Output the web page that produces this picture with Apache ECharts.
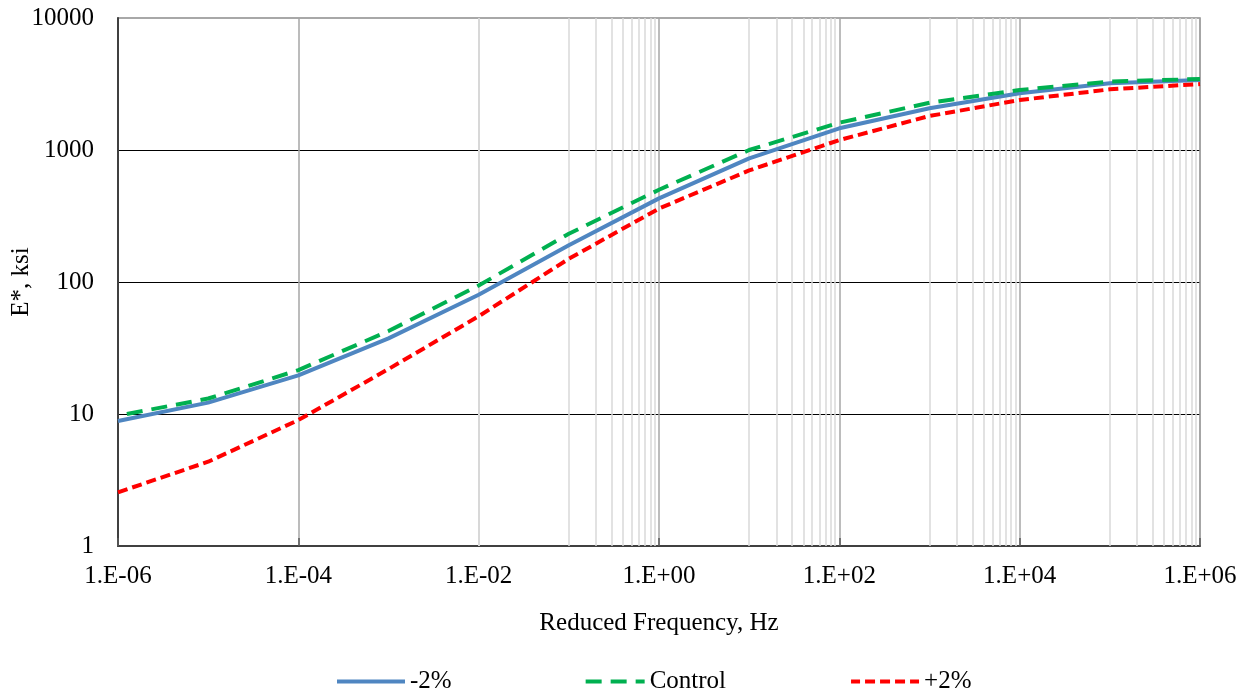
<!DOCTYPE html>
<html>
<head>
<meta charset="utf-8">
<script src="https://cdn.jsdelivr.net/npm/echarts@6/dist/echarts.min.js"></script>
<style>
html,body{margin:0;padding:0;background:#fff;}
#chart{width:1252px;height:696px;}
</style>
</head>
<body>
<div id="chart"></div>
<script>
// Reduced frequency (Hz)
var frequency = [1e-6, 1e-5, 1e-4, 1e-3, 1e-2, 1e-1, 1e0, 1e1, 1e2, 1e3, 1e4, 1e5, 1e6];
// E*, ksi
var minus2 = [8.85, 12.2, 19.6, 37.4, 80, 190, 430, 865, 1460, 2070, 2690, 3200, 3390];
var control = [9.7, 13.1, 21.5, 42.5, 94, 232, 500, 1000, 1610, 2280, 2850, 3300, 3450];
var plus2 = [2.55, 4.35, 9.0, 21.9, 55, 150, 360, 700, 1190, 1810, 2390, 2880, 3160];
var seriesNames = ['-2%', 'Control', '+2%'];

function pairs(xs, ys) { return xs.map(function (x, i) { return [x, ys[i]]; }); }

// minor vertical grid values (Excel style: 10..90 x 10^k within each 2-decade major unit)
var minorGrid = [];
for (var k = -6; k < 6; k += 2) {
  for (var m = 1; m <= 9; m++) minorGrid.push(m * Math.pow(10, k + 1));
}

var FONT = '"Liberation Serif", "Times New Roman", serif';

function fmtX(v) {
  var e = Math.round(Math.log10(v));
  var s = Math.abs(e) < 10 ? '0' + Math.abs(e) : '' + Math.abs(e);
  return '1.E' + (e < 0 ? '-' : '+') + s;
}
function fmtY(v) { return String(Math.round(v)); }

var chart = echarts.init(document.getElementById('chart'), null, {renderer: 'canvas'});
chart.setOption({
  animation: false,
  backgroundColor: '#ffffff',
  grid: {
    left: 118, right: 52, top: 18, bottom: 150,
    containLabel: false, outerBoundsMode: 'none',
    show: true, borderColor: '#8c8c8c', borderWidth: 1.5, backgroundColor: 'transparent'
  },
  legend: {
    data: seriesNames,
    left: 330, top: 664,
    itemWidth: 68, itemHeight: 14, itemGap: 123,
    itemStyle: {opacity: 0},
    lineStyle: {width: 4},
    textStyle: {fontFamily: FONT, fontSize: 25, color: '#000'}
  },
  xAxis: {
    type: 'log', logBase: 100, min: 1e-6, max: 1e6,
    name: 'Reduced Frequency, Hz', nameLocation: 'middle', nameGap: 65,
    nameTextStyle: {fontFamily: FONT, fontSize: 25, color: '#000'},
    axisLine: {show: true, lineStyle: {color: '#404040', width: 2}},
    axisTick: {show: true, inside: true, length: 8, lineStyle: {color: '#595959', width: 1.5}},
    axisLabel: {fontFamily: FONT, fontSize: 25, color: '#000', margin: 18, formatter: fmtX},
    splitLine: {show: true, lineStyle: {color: '#a6a6a6', width: 1.5}},
    minorTick: {show: false}
  },
  yAxis: {
    type: 'log', logBase: 10, min: 1, max: 10000,
    name: 'E*, ksi', nameLocation: 'middle', nameGap: 84, nameMoveOverlap: false,
    nameTextStyle: {fontFamily: FONT, fontSize: 25, color: '#000'},
    axisLine: {show: true, lineStyle: {color: '#404040', width: 2}},
    axisTick: {show: false},
    axisLabel: {fontFamily: FONT, fontSize: 25, color: '#000', margin: 24, formatter: fmtY},
    splitLine: {show: true, showMinLine: false, showMaxLine: false, lineStyle: {color: '#000', width: 1.2}}
  },
  series: [
    {
      name: 'grid', type: 'line', data: [[1e-6, 1]], symbol: 'none', silent: true,
      lineStyle: {opacity: 0}, z: 0,
      markLine: {
        silent: true, symbol: ['none', 'none'], label: {show: false}, animation: false,
        lineStyle: {color: '#d9d9d9', width: 1.5, type: 'solid'},
        data: minorGrid.map(function (v) { return {xAxis: v}; })
      }
    },
    {
      name: seriesNames[0], type: 'line', data: pairs(frequency, minus2),
      symbol: 'none', showSymbol: false, z: 5,
      lineStyle: {color: '#4f86c1', width: 4, type: 'solid'},
      itemStyle: {color: '#4f86c1'}
    },
    {
      name: seriesNames[1], type: 'line', data: pairs(frequency, control),
      symbol: 'none', showSymbol: false, z: 6,
      lineStyle: {color: '#00b050', width: 4, type: [16, 9], dashOffset: 16},
      itemStyle: {color: '#00b050'}
    },
    {
      name: seriesNames[2], type: 'line', data: pairs(frequency, plus2),
      symbol: 'none', showSymbol: false, z: 7,
      lineStyle: {color: '#ff0000', width: 4, type: [10, 5]},
      itemStyle: {color: '#ff0000'}
    }
  ]
});
</script>
</body>
</html>
